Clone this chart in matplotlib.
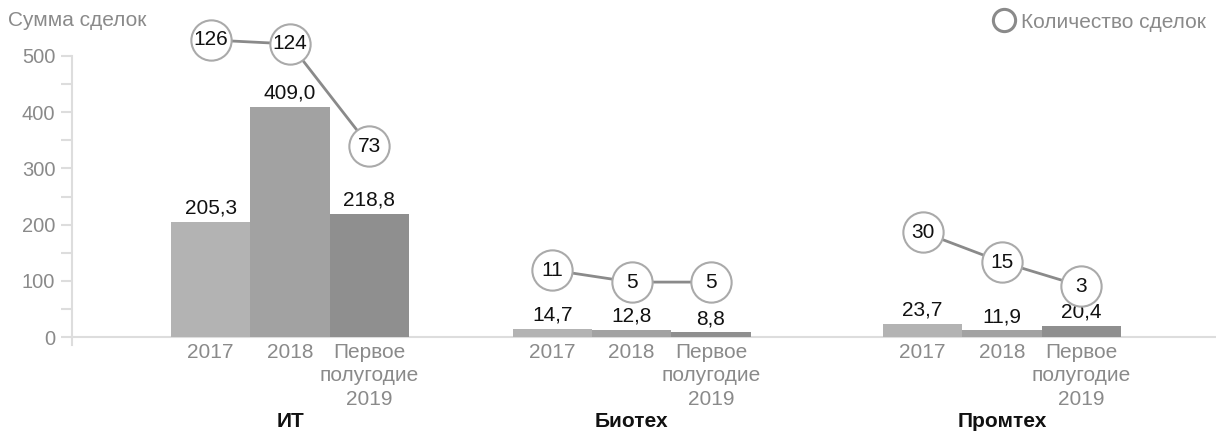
import matplotlib.pyplot as plt
from matplotlib.lines import Line2D

plt.rcParams['font.family'] = ['Liberation Sans', 'DejaVu Sans']

groups = ['ИТ', 'Биотех', 'Промтех']
periods = ['2017', '2018', 'Первое\nполугодие\n2019']
amounts = [[205.3, 409.0, 218.8],
           [14.7, 12.8, 8.8],
           [23.7, 11.9, 20.4]]
deals = [[126, 124, 73],
         [11, 5, 5],
         [30, 15, 3]]

bar_colors = ['#b3b3b3', '#a2a2a2', '#8f8f8f']
group_x = [2.75, 7.06, 11.73]
grid_c = '#dddddd'
label_c = '#8a8a8a'
fs = 15

fig = plt.figure(figsize=(12.16, 4.32), dpi=100)
ax = fig.add_axes([72 / 1216, (432 - 345) / 432, 1 - 72 / 1216, (345 - 56) / 432])

ax.set_xlim(0, 14.43)
ax.set_ylim(-14, 500)

for g, gx in enumerate(group_x):
    xs = [gx - 1, gx, gx + 1]
    for i, x in enumerate(xs):
        v = amounts[g][i]
        ax.bar(x, v, width=1.0, color=bar_colors[i], zorder=2)
        ax.annotate(f'{v:.1f}'.replace('.', ','), (x, v), xytext=(0, 3),
                    textcoords='offset points', ha='center', va='bottom',
                    fontsize=fs, color='#111111')
        ax.annotate(periods[i], (x, 0), xytext=(0, -4), textcoords='offset points',
                    ha='center', va='top', fontsize=fs, color=label_c,
                    linespacing=1.3)
    ax.annotate(groups[g], (gx, 0), xytext=(0, -61), textcoords='offset points',
                ha='center', va='center', fontsize=fs, fontweight='bold', color='#111111')

ax.axhline(0, color=grid_c, lw=1.5, zorder=1, clip_on=False)

ax.spines[['top', 'right', 'bottom']].set_visible(False)
ax.spines['left'].set_color(grid_c)
ax.spines['left'].set_linewidth(1.5)
ax.set_xticks([])
ax.set_yticks(range(0, 501, 100))
ax.set_yticks(range(50, 500, 100), minor=True)
ax.tick_params(axis='y', which='both', length=8, width=1.5, color=grid_c,
               labelcolor=label_c, labelsize=14.5, pad=4)

# deals count on a second scale
ax2 = ax.twinx()
ax2.set_ylim((-14 - 80.1) / 3.559, (500 - 80.1) / 3.559)
ax2.axis('off')
for g, gx in enumerate(group_x):
    xs = [gx - 1, gx, gx + 1]
    ax2.plot(xs, deals[g], color='#8a8a8a', lw=2, zorder=3, clip_on=False)
    ax2.plot(xs, deals[g], 'o', ms=29, mfc='white', mec='#aaaaaa', mew=1.5,
             zorder=4, clip_on=False)
    for x, c in zip(xs, deals[g]):
        ax2.text(x, c, str(c), ha='center', va='center', fontsize=fs,
                 color='#111111', zorder=5, clip_on=False)

fig.text(8 / 1216, 1 - 21 / 432, 'Сумма сделок', ha='left', va='center',
         fontsize=fs, color=label_c)
handle = Line2D([], [], marker='o', ls='none', ms=16, mfc='white', mec='#8a8a8a', mew=2.2)
fig.legend([handle], ['Количество сделок'], loc='center right',
           bbox_to_anchor=(1.0, 1 - 22 / 432), frameon=False, fontsize=fs,
           labelcolor=label_c, handletextpad=0.3, borderaxespad=0.1,
           handlelength=1.0)

fig.savefig('out.png', dpi=100)
